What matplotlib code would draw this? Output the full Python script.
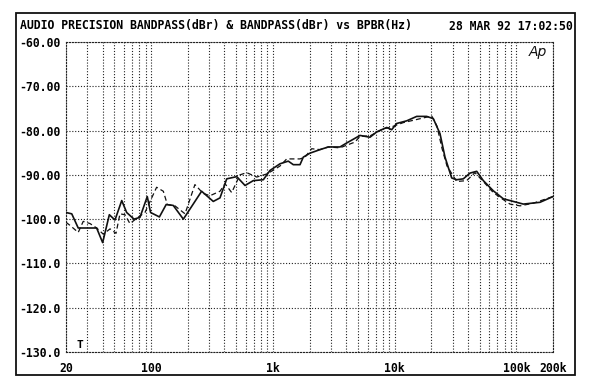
import matplotlib
matplotlib.use("Agg")
import matplotlib.pyplot as plt
from matplotlib.ticker import FixedLocator, NullFormatter
from matplotlib.patches import Rectangle

title_left = "AUDIO PRECISION BANDPASS(dBr) & BANDPASS(dBr) vs BPBR(Hz)"
title_right = "28 MAR 92 17:02:50"

# Solid trace (Hz, dBr)
freq_a = [20, 22.3, 25.2, 35.7, 40, 45.4, 50.5, 57.4, 63, 72.4, 81, 93, 99, 117,
          133, 152, 184, 260, 324, 368, 418, 505, 591, 691, 835, 948, 1145, 1339,
          1472, 1671, 1778, 2018, 2440, 2854, 3561, 4041, 5198, 6282, 7130, 8612,
          9467, 10405, 12570, 15190, 18350, 20790, 23600, 25940, 29440, 32360,
          36670, 41620, 47240, 53540, 64660, 78140, 94400, 114100, 156300, 200000]
level_a = [-98.5, -98.8, -102.0, -102.0, -105.3, -99.0, -100.2, -95.8, -98.5, -100.0,
           -99.6, -94.9, -98.5, -99.5, -96.7, -96.9, -100.0, -93.7, -96.0, -95.2,
           -90.9, -90.4, -92.4, -91.3, -91.1, -89.0, -87.5, -86.9, -87.7, -87.7,
           -86.0, -85.1, -84.3, -83.7, -83.7, -82.8, -81.1, -81.5, -80.3, -79.3,
           -79.8, -78.4, -77.8, -76.8, -76.8, -77.3, -80.7, -86.0, -90.7, -91.1,
           -90.9, -89.6, -89.2, -91.3, -93.6, -95.4, -96.0, -96.6, -96.2, -94.9]

# Dashed trace (Hz, dBr)
freq_b = [20, 22, 25.2, 27.7, 31.5, 35.7, 40.5, 46, 51.5, 55.5, 61, 67, 78, 89, 111,
          126, 136, 157, 190, 229, 268, 305, 368, 405, 459, 537, 610, 737, 890, 1002,
          1145, 1299, 1472, 1671, 1837, 2084, 2440, 2854, 3561, 4041, 4728, 5198,
          6282, 8078, 9160, 11790, 15190, 20170, 22290, 24500, 26940, 32360, 39100,
          45700, 53540, 64660, 78140, 88700, 107200, 137800, 200000]
level_b = [-100.7, -101.6, -103.0, -100.5, -101.0, -102.0, -103.4, -102.2, -103.2,
           -98.8, -99.0, -101.0, -99.6, -98.5, -92.8, -93.7, -96.7, -97.0, -98.8,
           -92.2, -94.2, -94.7, -93.7, -92.0, -94.0, -90.0, -89.5, -90.5, -89.8,
           -89.0, -88.0, -86.4, -86.4, -86.4, -86.0, -84.1, -84.3, -83.7, -83.9,
           -83.3, -82.6, -81.3, -81.2, -79.6, -79.3, -78.2, -77.5, -76.7, -79.0,
           -84.0, -88.0, -91.5, -91.3, -89.5, -91.5, -94.0, -95.6, -96.6, -97.0,
           -96.4, -94.9]

y_ticks = [-60, -70, -80, -90, -100, -110, -120, -130]
y_labels = ["-60.00", "-70.00", "-80.00", "-90.00", "-100.0", "-110.0", "-120.0", "-130.0"]
x_ticks = [20, 100, 1000, 10000, 100000, 200000]
x_labels = ["20", "100", "1k", "10k", "100k", "200k"]

W, H = 600, 386
fig = plt.figure(figsize=(W / 100, H / 100), dpi=100)
ax = fig.add_axes([66 / W, 34 / H, 487 / W, 310 / H])

ax.plot(freq_a, level_a, color="#111111", lw=1.2, solid_joinstyle="round", zorder=3)
ax.plot(freq_b, level_b, color="#111111", lw=0.9, linestyle=(0, (4, 2.5)), zorder=3)

ax.set_xscale("log")
ax.set_xlim(20, 200000)
ax.set_ylim(-130, -60)

minor = []
for dec in [10, 100, 1000, 10000, 100000]:
    for m in range(2, 10):
        v = m * dec
        if 20 < v < 200000 and v not in x_ticks:
            minor.append(v)
ax.xaxis.set_major_locator(FixedLocator(x_ticks))
ax.xaxis.set_minor_locator(FixedLocator(minor))
ax.xaxis.set_minor_formatter(NullFormatter())
ax.set_xticklabels(x_labels)
ax.set_yticks(y_ticks)
ax.set_yticklabels(y_labels)

mono = dict(family="DejaVu Sans Mono", weight="bold", size=8.3)
for lab in ax.get_xticklabels() + ax.get_yticklabels():
    lab.set_fontfamily(mono["family"])
    lab.set_fontweight(mono["weight"])
    lab.set_fontsize(mono["size"])
ax.tick_params(axis="both", which="both", length=0)
ax.tick_params(axis="x", pad=7)
ax.tick_params(axis="y", pad=4)

gstyle = dict(color="#222222", linestyle=(0, (1, 1.6)), linewidth=0.8)
ax.grid(True, axis="x", which="both", **gstyle)
ax.grid(True, axis="y", which="major", **gstyle)
for s in ax.spines.values():
    s.set_linestyle((0, (1, 1.6)))
    s.set_linewidth(0.8)
    s.set_color("#222222")

fig.text(20 / W, 1 - 26 / H, title_left, ha="left", va="center", **mono)
fig.text(573 / W, 1 - 26 / H, title_right, ha="right", va="center", **mono)
fig.text(80 / W, 1 - 345 / H, "T", ha="center", va="center",
         family="DejaVu Sans Mono", weight="bold", size=8)
fig.text(538 / W, 1 - 52 / H, "Ap", ha="center", va="center",
         family="DejaVu Sans", style="italic", size=10, color="#111111")

fig.patches.append(Rectangle((16 / W, 1 - 375 / H), (575 - 16) / W, (375 - 13) / H,
                             transform=fig.transFigure, fill=False,
                             lw=1.3, edgecolor="#111111"))

fig.savefig("out.png", dpi=100, facecolor="white")
